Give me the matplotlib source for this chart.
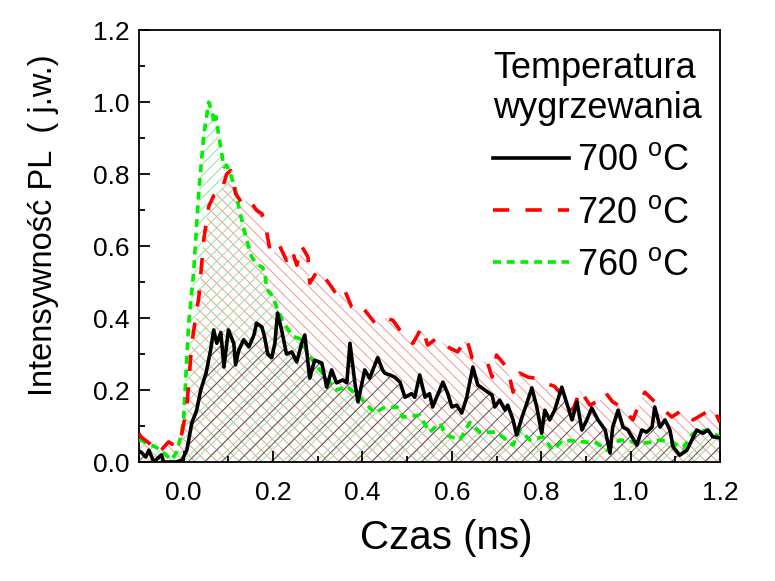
import matplotlib
matplotlib.use("Agg")
import matplotlib.pyplot as plt
from matplotlib.ticker import MultipleLocator

plt.rcParams['font.family'] = ['Liberation Sans', 'DejaVu Sans']
plt.rcParams['hatch.linewidth'] = 0.7
plt.rcParams['mathtext.fontset'] = 'custom'
plt.rcParams['mathtext.rm'] = 'Liberation Sans'

# --- data ---
t_700 = [-0.1, -0.096, -0.085, -0.078, -0.067, -0.05, -0.045, -0.018, -0.004, 0.007, 0.018, 0.029,
         0.038, 0.05, 0.06, 0.067, 0.074, 0.083, 0.09, 0.1, 0.112, 0.116, 0.123, 0.134, 0.146, 0.157,
         0.163, 0.175, 0.181, 0.188, 0.197, 0.204, 0.21, 0.219, 0.23, 0.242, 0.253, 0.264, 0.271,
         0.282, 0.293, 0.309, 0.32, 0.331, 0.342, 0.356, 0.365, 0.372, 0.383, 0.39, 0.405, 0.416,
         0.434, 0.445, 0.45, 0.461, 0.472, 0.484, 0.495, 0.51, 0.517, 0.528, 0.54, 0.55, 0.557,
         0.58, 0.591, 0.6, 0.611, 0.622, 0.633, 0.647, 0.658, 0.674, 0.69, 0.696, 0.707, 0.719,
         0.725, 0.737, 0.745, 0.757, 0.768, 0.779, 0.79, 0.801, 0.808, 0.819, 0.83, 0.846, 0.857,
         0.869, 0.88, 0.891, 0.902, 0.913, 0.927, 0.943, 0.954, 0.96, 0.972, 0.983, 0.994, 1.014,
         1.025, 1.036, 1.048, 1.054, 1.066, 1.077, 1.088, 1.095, 1.11, 1.126, 1.137, 1.148, 1.162,
         1.173, 1.184, 1.2]
i_700 = [0.03, 0.028, 0.014, 0.033, 0.0, 0.02, 0.0, 0.0, 0.005, 0.033, 0.108, 0.144,
         0.2, 0.247, 0.31, 0.367, 0.33, 0.36, 0.264, 0.367, 0.33, 0.27, 0.31, 0.34, 0.32, 0.353,
         0.386, 0.375, 0.347, 0.30, 0.29, 0.33, 0.414, 0.367, 0.30, 0.306, 0.278, 0.33, 0.353,
         0.233, 0.283, 0.275, 0.208, 0.256, 0.22, 0.228, 0.22, 0.33, 0.22, 0.167, 0.256, 0.233,
         0.29, 0.256, 0.247, 0.242, 0.236, 0.222, 0.18, 0.19, 0.18, 0.242, 0.18, 0.19, 0.153,
         0.222, 0.19, 0.153, 0.158, 0.136, 0.178, 0.264, 0.214, 0.2, 0.186, 0.153, 0.172, 0.144,
         0.158, 0.117, 0.075, 0.125, 0.164, 0.206, 0.153, 0.08, 0.144, 0.117, 0.144, 0.208, 0.164,
         0.117, 0.167, 0.089, 0.117, 0.15, 0.117, 0.089, 0.025, 0.097, 0.144, 0.097, 0.089, 0.047,
         0.089, 0.083, 0.097, 0.153, 0.097, 0.117, 0.089, 0.042, 0.019, 0.033, 0.061, 0.089, 0.08,
         0.089, 0.07, 0.067]

t_720 = [-0.1, -0.096, -0.078, -0.056, -0.034, -0.016, -0.004, 0.007, 0.018, 0.034, 0.045, 0.056,
         0.067, 0.083, 0.096, 0.105, 0.116, 0.13, 0.146, 0.163, 0.175, 0.186, 0.193, 0.2, 0.215,
         0.23, 0.242, 0.253, 0.264, 0.278, 0.282, 0.3, 0.32, 0.331, 0.345, 0.36, 0.376, 0.387, 0.4,
         0.428, 0.45, 0.468, 0.495, 0.513, 0.533, 0.546, 0.566, 0.595, 0.613, 0.633, 0.645, 0.663,
         0.68, 0.69, 0.70, 0.725, 0.737, 0.752, 0.77, 0.786, 0.808, 0.83, 0.846, 0.871, 0.887,
         0.909, 0.931, 0.943, 0.96, 0.983, 1.005, 1.021, 1.032, 1.05, 1.07, 1.092, 1.115, 1.14,
         1.17, 1.185, 1.2]
i_720 = [0.08, 0.07, 0.053, 0.025, 0.056, 0.042, 0.08, 0.153, 0.33, 0.46, 0.62, 0.71,
         0.74, 0.746, 0.80, 0.81, 0.746, 0.72, 0.73, 0.70, 0.69, 0.636, 0.59, 0.58, 0.60,
         0.56, 0.59, 0.547, 0.60, 0.57, 0.497, 0.533, 0.505, 0.486, 0.46, 0.478, 0.43, 0.42, 0.43,
         0.386, 0.40, 0.394, 0.347, 0.33, 0.375, 0.325, 0.344, 0.317, 0.306, 0.344, 0.29, 0.283,
         0.275, 0.236, 0.297, 0.26, 0.194, 0.247, 0.236, 0.233, 0.22, 0.21, 0.186, 0.144, 0.2,
         0.158, 0.172, 0.194, 0.167, 0.15, 0.117, 0.167, 0.194, 0.172, 0.15, 0.125, 0.144, 0.117,
         0.139, 0.15, 0.11]

t_760 = [-0.1, -0.094, -0.08, -0.063, -0.05, -0.04, -0.027, -0.015, -0.005, 0.0, 0.011, 0.022,
         0.034, 0.045, 0.056, 0.064, 0.068, 0.072, 0.078, 0.09, 0.096, 0.105, 0.116, 0.123, 0.139,
         0.152, 0.163, 0.177, 0.183, 0.186, 0.2, 0.208, 0.222, 0.244, 0.264, 0.278, 0.304, 0.342,
         0.365, 0.394, 0.428, 0.446, 0.477, 0.49, 0.528, 0.55, 0.573, 0.588, 0.618, 0.64, 0.663,
         0.70, 0.737, 0.752, 0.775, 0.804, 0.826, 0.849, 0.893, 0.924, 0.947, 0.976, 1.005, 1.036,
         1.066, 1.095, 1.117, 1.14, 1.17, 1.2]
i_760 = [0.06, 0.061, 0.05, 0.042, 0.03, 0.02, 0.006, 0.03, 0.08, 0.125, 0.386, 0.525,
         0.756, 0.91, 1.0, 0.97, 0.94, 0.96, 0.91, 0.82, 0.825, 0.80, 0.756, 0.71, 0.625,
         0.57, 0.55, 0.54, 0.51, 0.48, 0.46, 0.43, 0.39, 0.35, 0.34, 0.30, 0.256, 0.20,
         0.21, 0.18, 0.136, 0.15, 0.153, 0.125, 0.13, 0.083, 0.108, 0.075, 0.061, 0.11, 0.083,
         0.083, 0.047, 0.089, 0.061, 0.07, 0.033, 0.061, 0.056, 0.053, 0.033, 0.061, 0.056, 0.053,
         0.061, 0.053, 0.039, 0.08, 0.089, 0.07]

labels = ['700 $^{\\mathrm{o}}$C', '720 $^{\\mathrm{o}}$C', '760 $^{\\mathrm{o}}$C']
legend_title = 'Temperatura\nwygrzewania'
x_label = 'Czas (ns)'
y_label = 'Intensywność PL  ( j.w.)'

fig = plt.figure(figsize=(7.75, 5.81), dpi=100)
ax = fig.add_axes([0.1794, 0.2048, 0.929 - 0.1794, 0.948 - 0.2048])

# hatched fills
ax.fill_between(t_720, i_720, 0, facecolor='none', edgecolor='#f29a9a', hatch='\\\\\\', linewidth=0)
ax.fill_between(t_760, i_760, 0, facecolor='none', edgecolor='#96e296', hatch='///', linewidth=0)
ax.fill_between(t_700, i_700, 0, facecolor='none', edgecolor='#505050', hatch='//', linewidth=0)

ax.plot(t_760, i_760, color='#00ee00', lw=2.6, dashes=(2.2, 1.6), label=labels[2], zorder=3)
ax.plot(t_720, i_720, color='#ff0000', lw=2.6, dashes=(4.5, 4.5), label=labels[1], zorder=4)
ax.plot(t_700, i_700, color='black', lw=2.6, label=labels[0], zorder=5)

ax.set_xlim(-0.1, 1.2)
ax.set_ylim(0, 1.2)
ax.xaxis.set_major_locator(MultipleLocator(0.2))
ax.xaxis.set_minor_locator(MultipleLocator(0.1))
ax.yaxis.set_major_locator(MultipleLocator(0.2))
ax.yaxis.set_minor_locator(MultipleLocator(0.1))
ax.xaxis.set_major_formatter(matplotlib.ticker.FormatStrFormatter('%.1f'))
ax.yaxis.set_major_formatter(matplotlib.ticker.FormatStrFormatter('%.1f'))
ax.tick_params(which='both', direction='in', top=False, right=False, labelsize=19, width=1.3)
ax.tick_params(which='major', length=8)
ax.tick_params(axis='x', which='major', pad=14)
ax.tick_params(axis='y', which='major', pad=7)
ax.tick_params(which='minor', length=4)
for s in ax.spines.values():
    s.set_linewidth(1.3)

ax.set_xlabel(x_label, fontsize=29, labelpad=10)
ax.xaxis.label.set_x(0.528)
ax.set_ylabel(y_label, fontsize=23.5, labelpad=24)
ax.yaxis.label.set_y(0.549)

h, l = ax.get_legend_handles_labels()
order = [2, 1, 0]
leg = ax.legend([h[i] for i in order], [l[i] for i in order], title=legend_title,
                loc='upper right', bbox_to_anchor=(1.006, 1.003), frameon=False,
                fontsize=26, title_fontsize=26, handlelength=2.1, handletextpad=0.22,
                labelspacing=0.48, alignment='left', borderaxespad=0.2)
fig.savefig('out.png', dpi=100)
